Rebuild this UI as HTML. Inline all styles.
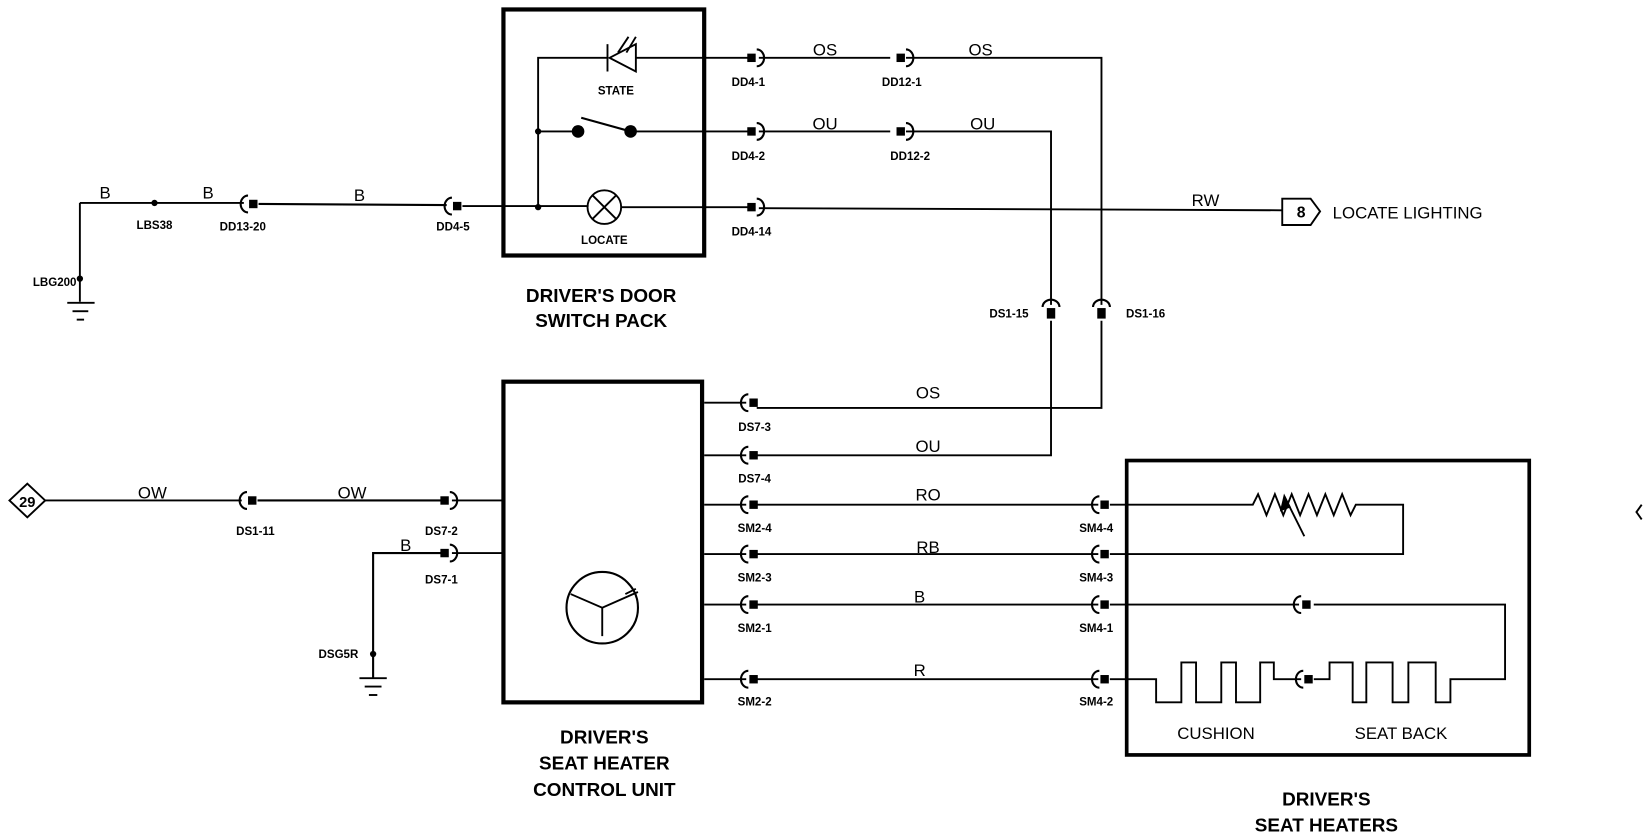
<!DOCTYPE html>
<html><head><meta charset="utf-8"><style>
html,body{margin:0;padding:0;background:#fff;width:1648px;height:838px;overflow:hidden}
svg{display:block}
text{font-family:"Liberation Sans",Arial,sans-serif;fill:#000}
.s{font-size:11px;font-weight:bold}
.m{font-size:16px}
.b{font-size:18px;font-weight:bold}
</style></head><body>
<svg width="1648" height="838" viewBox="0 0 1568 797" preserveAspectRatio="none" xmlns="http://www.w3.org/2000/svg">
<defs>
<g id="mr"><rect x="-9" y="-4" width="8" height="8" fill="#000"/><path d="M0,-8 A7,8 0 0 1 0,8" fill="none" stroke="#000" stroke-width="2"/></g>
<g id="ml"><rect x="1" y="-4" width="8" height="8" fill="#000"/><path d="M0,-8 A7,8 0 0 0 0,8" fill="none" stroke="#000" stroke-width="2"/></g>
<g id="mu"><rect x="-4" y="1" width="8" height="10" fill="#000"/><path d="M-8,0 A8,7 0 0 1 8,0" fill="none" stroke="#000" stroke-width="2"/></g>
</defs>
<g fill="none" stroke="#000" stroke-width="1.8">
<rect x="479" y="9" width="191" height="234" stroke-width="4"/>
<polyline points="512,197 512,55 578,55"/>
<polyline points="605,55 712,55"/>
<polygon points="605,42 605,68 580,55"/>
<line x1="578" y1="42" x2="578" y2="68"/>
<line x1="588" y1="50" x2="598" y2="35"/><line x1="596" y1="50" x2="605" y2="35"/>
<line x1="512" y1="125" x2="550" y2="125"/>
<line x1="553" y1="112" x2="600" y2="125" stroke-width="2"/>
<line x1="600" y1="125" x2="712" y2="125"/>
<line x1="76" y1="287" x2="76" y2="193"/><line x1="76" y1="193" x2="232" y2="193"/>
<line x1="246" y1="194" x2="425" y2="195" stroke-width="2"/>
<line x1="440" y1="196" x2="560" y2="196"/>
<circle cx="575" cy="197" r="16"/>
<line x1="564" y1="186" x2="586" y2="208"/><line x1="586" y1="186" x2="564" y2="208"/>
<line x1="591" y1="197" x2="712" y2="197"/>
<line x1="64" y1="288" x2="90" y2="288"/><line x1="69" y1="296" x2="84" y2="296"/><line x1="73" y1="304" x2="80" y2="304"/>
<polyline points="722,55 847,55"/><polyline points="862,55 1048,55 1048,290"/>
<polyline points="1048,305 1048,388 720,388"/>
<polyline points="722,125 847,125"/><polyline points="862,125 1000,125 1000,290"/>
<polyline points="1000,305 1000,433 720,433"/>
<line x1="722" y1="198" x2="1220" y2="200"/>
<polygon points="1220,189 1247,189 1256,201 1247,214 1220,214"/>
<rect x="479" y="363" width="189" height="305" stroke-width="4"/>
<circle cx="573" cy="578" r="34" stroke-width="2"/>
<polyline points="543,565 573,578 607,563"/><line x1="573" y1="578" x2="573" y2="605"/>
<line x1="595" y1="565" x2="605" y2="560"/>
<line x1="670" y1="383" x2="710" y2="383"/><line x1="670" y1="433" x2="710" y2="433"/>
<line x1="670" y1="480" x2="710" y2="480"/><line x1="670" y1="527" x2="710" y2="527"/>
<line x1="670" y1="575" x2="710" y2="575"/><line x1="670" y1="646" x2="710" y2="646"/>
<line x1="720" y1="480" x2="1045" y2="480"/><line x1="720" y1="527" x2="1045" y2="527"/>
<line x1="720" y1="575" x2="1045" y2="575"/><line x1="720" y1="646" x2="1045" y2="646"/>
<rect x="1072" y="438" width="383" height="280" stroke-width="3.5"/>
<polyline points="1056,480 1192,480 1197,470 1205,490 1213,470 1221,490 1229,470 1237,490 1245,470 1253,490 1261,470 1269,490 1277,470 1285,490 1290,480 1335,480 1335,527 1056,527"/>
<line x1="1241" y1="510" x2="1222" y2="472"/>
<polygon points="1222,472 1219,485 1227,482" fill="#000"/>
<polyline points="1056,575 1236,575"/><polyline points="1250,575 1432,575 1432,646 1380,646 1380,668 1366,668 1366,630 1340,630 1340,668 1325,668 1325,630 1300,630 1300,668 1287,668 1287,630 1265,630 1265,646 1250,646"/>
<polyline points="1238,646 1212,646 1212,630 1199,630 1199,668 1176,668 1176,630 1162,630 1162,668 1138,668 1138,630 1124,630 1124,668 1100,668 1100,646 1056,646"/>
<polygon points="9,476 26,460 43,476 26,492"/>
<line x1="43" y1="476" x2="230" y2="476"/><line x1="245" y1="476" x2="420" y2="476" stroke-width="2"/>
<line x1="430" y1="476" x2="479" y2="476"/>
<polyline points="355,645 355,526 420,526" stroke-width="2"/><line x1="430" y1="526" x2="479" y2="526"/>
<line x1="342" y1="645" x2="368" y2="645"/><line x1="347" y1="653" x2="363" y2="653"/><line x1="351" y1="661" x2="359" y2="661"/>
<path d="M1562,480 L1557,487 L1562,494"/>
</g>
<g fill="#000">
<circle cx="512" cy="125" r="3"/><circle cx="512" cy="197" r="3"/>
<circle cx="550" cy="125" r="6"/><circle cx="600" cy="125" r="6"/>
<circle cx="147" cy="193" r="3"/><circle cx="76" cy="265" r="3"/><circle cx="355" cy="622" r="3"/>
</g>
<use href="#ml" x="236" y="194"/><use href="#ml" x="430" y="196"/><use href="#ml" x="235" y="476"/>
<use href="#mr" x="720" y="55"/><use href="#mr" x="720" y="125"/><use href="#mr" x="720" y="197"/>
<use href="#mr" x="862" y="55"/><use href="#mr" x="862" y="125"/>
<use href="#mr" x="428" y="476"/><use href="#mr" x="428" y="526"/>
<use href="#mu" x="1000" y="292"/><use href="#mu" x="1048" y="292"/>
<use href="#ml" x="712" y="383"/><use href="#ml" x="712" y="433"/><use href="#ml" x="712" y="480"/>
<use href="#ml" x="712" y="527"/><use href="#ml" x="712" y="575"/><use href="#ml" x="712" y="646"/>
<use href="#ml" x="1046" y="480"/><use href="#ml" x="1046" y="527"/><use href="#ml" x="1046" y="575"/><use href="#ml" x="1046" y="646"/>
<use href="#ml" x="1238" y="575"/><use href="#ml" x="1240" y="646"/>
<g class="s">
<text x="586" y="90" text-anchor="middle">STATE</text>
<text x="575" y="232" text-anchor="middle">LOCATE</text>
<text x="712" y="82" text-anchor="middle">DD4-1</text><text x="712" y="152" text-anchor="middle">DD4-2</text><text x="715" y="224" text-anchor="middle">DD4-14</text>
<text x="858" y="82" text-anchor="middle">DD12-1</text><text x="866" y="152" text-anchor="middle">DD12-2</text>
<text x="147" y="218" text-anchor="middle">LBS38</text><text x="231" y="219" text-anchor="middle">DD13-20</text><text x="431" y="219" text-anchor="middle">DD4-5</text>
<text x="52" y="272" text-anchor="middle">LBG200</text>
<text x="960" y="302" text-anchor="middle">DS1-15</text><text x="1090" y="302" text-anchor="middle">DS1-16</text>
<text x="718" y="410" text-anchor="middle">DS7-3</text><text x="718" y="459" text-anchor="middle">DS7-4</text>
<text x="718" y="506" text-anchor="middle">SM2-4</text><text x="718" y="553" text-anchor="middle">SM2-3</text>
<text x="718" y="601" text-anchor="middle">SM2-1</text><text x="718" y="671" text-anchor="middle">SM2-2</text>
<text x="1043" y="506" text-anchor="middle">SM4-4</text><text x="1043" y="553" text-anchor="middle">SM4-3</text>
<text x="1043" y="601" text-anchor="middle">SM4-1</text><text x="1043" y="671" text-anchor="middle">SM4-2</text>
<text x="243" y="509" text-anchor="middle">DS1-11</text><text x="420" y="509" text-anchor="middle">DS7-2</text><text x="420" y="555" text-anchor="middle">DS7-1</text>
<text x="322" y="626" text-anchor="middle">DSG5R</text>
</g>
<g class="m">
<text x="100" y="189" text-anchor="middle">B</text><text x="198" y="189" text-anchor="middle">B</text><text x="342" y="191" text-anchor="middle">B</text>
<text x="785" y="53" text-anchor="middle">OS</text><text x="933" y="53" text-anchor="middle">OS</text>
<text x="785" y="123" text-anchor="middle">OU</text><text x="935" y="123" text-anchor="middle">OU</text>
<text x="1147" y="196" text-anchor="middle">RW</text>
<text x="1238" y="207" text-anchor="middle" font-weight="bold" font-size="15">8</text>
<text x="1268" y="208">LOCATE LIGHTING</text>
<text x="883" y="379" text-anchor="middle">OS</text><text x="883" y="430" text-anchor="middle">OU</text>
<text x="883" y="476" text-anchor="middle">RO</text><text x="883" y="526" text-anchor="middle">RB</text>
<text x="875" y="573" text-anchor="middle">B</text><text x="875" y="643" text-anchor="middle">R</text>
<text x="145" y="474" text-anchor="middle">OW</text><text x="335" y="474" text-anchor="middle">OW</text><text x="386" y="524" text-anchor="middle">B</text>
<text x="26" y="482" text-anchor="middle" font-weight="bold" font-size="14">29</text>
<text x="1157" y="703" text-anchor="middle">CUSHION</text><text x="1333" y="703" text-anchor="middle">SEAT BACK</text>
</g>
<g class="b" text-anchor="middle">
<text x="572" y="287">DRIVER'S DOOR</text><text x="572" y="311">SWITCH PACK</text>
<text x="575" y="707">DRIVER'S</text><text x="575" y="732">SEAT HEATER</text><text x="575" y="757">CONTROL UNIT</text>
<text x="1262" y="766">DRIVER'S</text><text x="1262" y="791">SEAT HEATERS</text>
</g>
</svg>
</body></html>
